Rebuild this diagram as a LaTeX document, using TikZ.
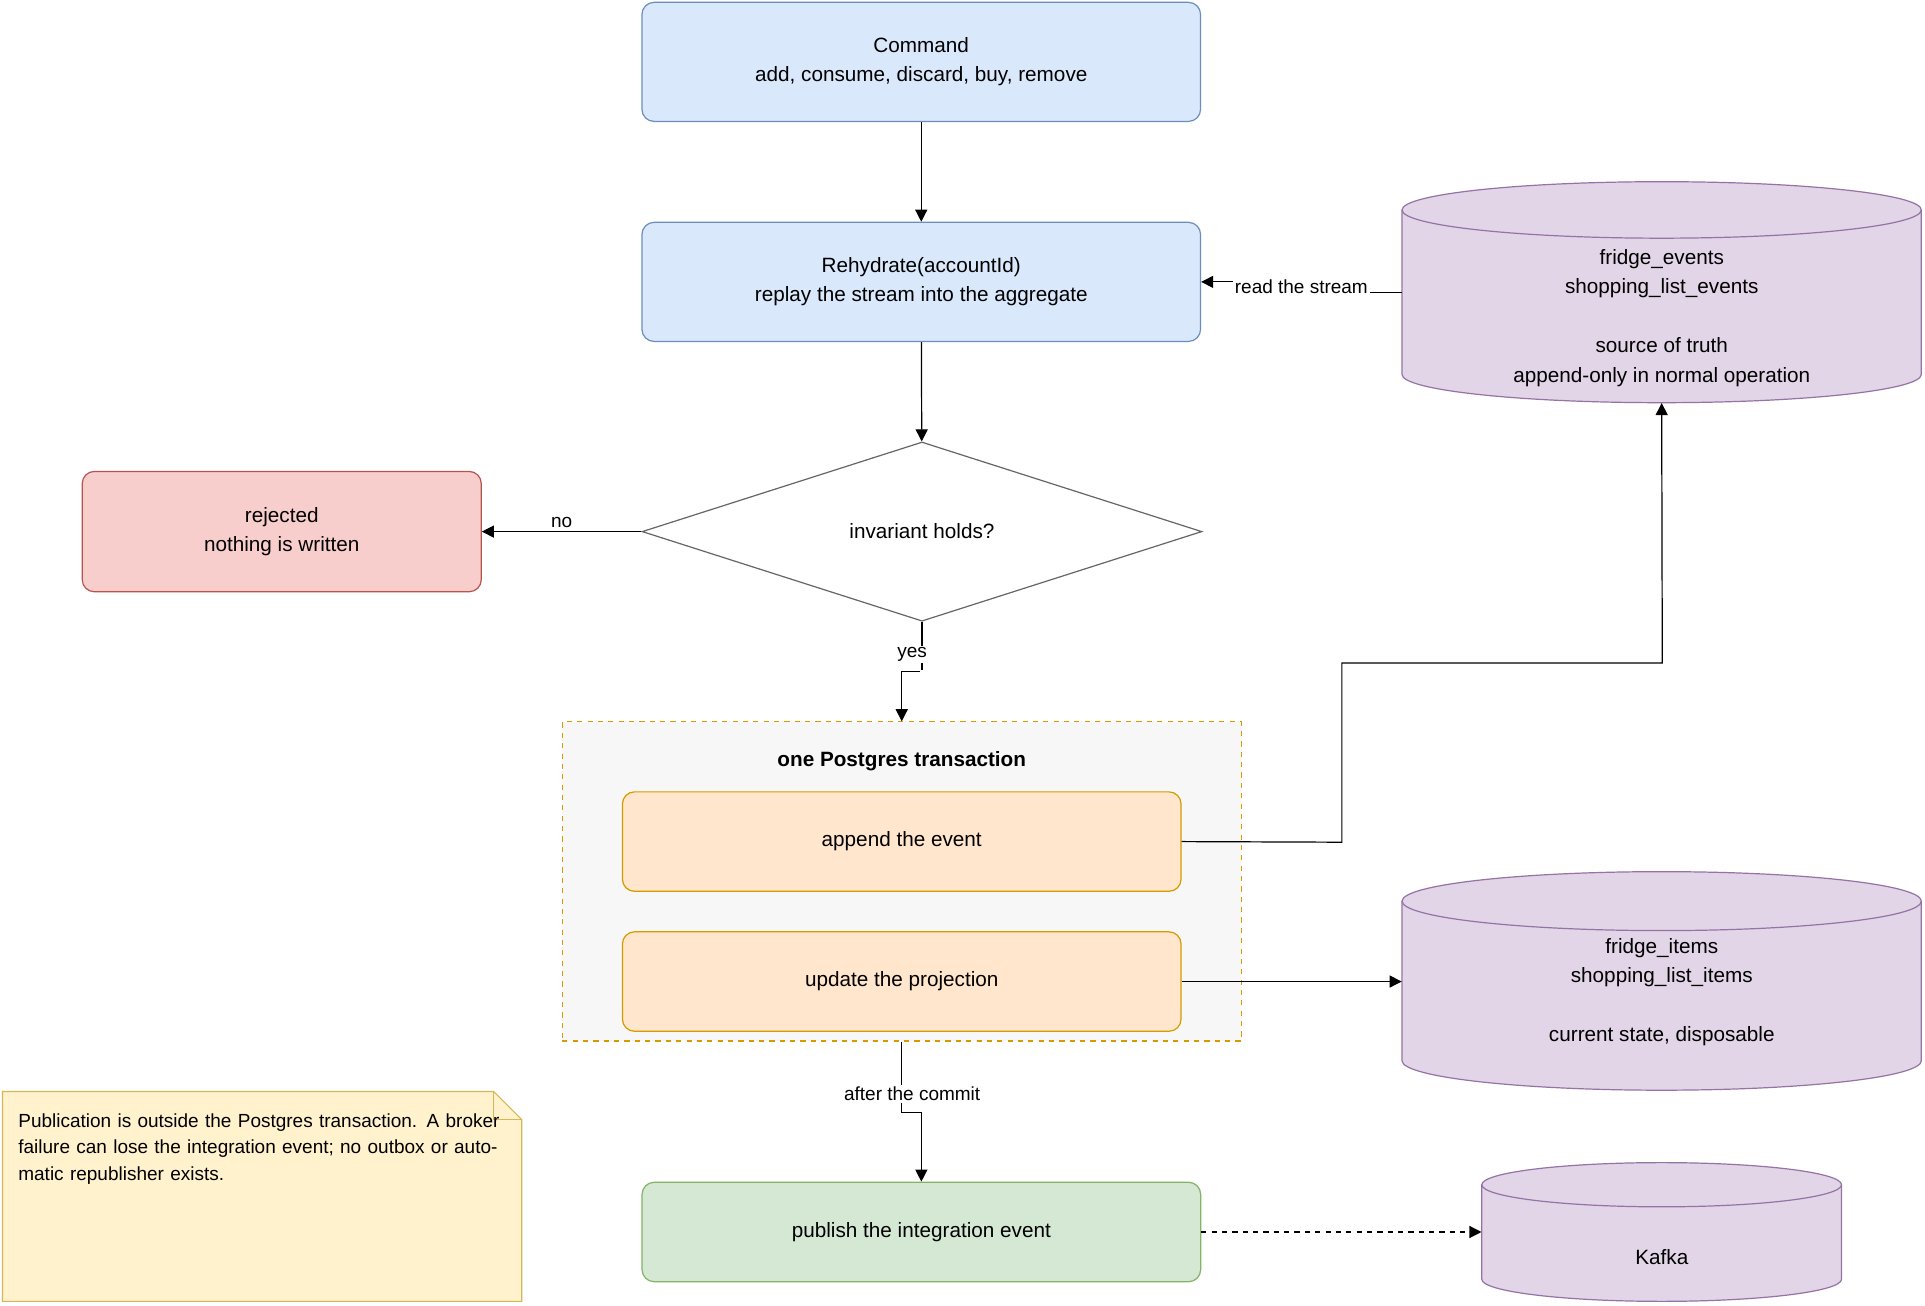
\documentclass[tikz,border=0pt]{standalone}
\usepackage{fontspec}
\setmainfont{Liberation Sans}
\usetikzlibrary{positioning,arrows.meta,shapes.geometric}

\definecolor{bluefill}{HTML}{DAE8FC}
\definecolor{blueline}{HTML}{6C8EBF}
\definecolor{redfill}{HTML}{F8CECC}
\definecolor{redline}{HTML}{B85450}
\definecolor{orfill}{HTML}{FFE6CC}
\definecolor{orline}{HTML}{D79B00}
\definecolor{grfill}{HTML}{D5E8D4}
\definecolor{grline}{HTML}{82B366}
\definecolor{dbfill}{HTML}{E1D5E7}
\definecolor{dbline}{HTML}{9673A6}
\definecolor{notefill}{HTML}{FFF2CC}
\definecolor{noteline}{HTML}{D6B656}

\tikzset{
  every node/.style={font=\fontsize{12}{17}\selectfont,align=center},
  box/.style={draw,rounded corners=7pt,minimum width=11.375cm,line width=0.7pt},
  lbl/.style={fill=white,inner sep=1pt,font=\fontsize{11}{14}\selectfont},
  arr/.style={-{Triangle[length=7pt,width=7pt]},line width=0.7pt},
}

% name, x1, y1 (top), x2, y2 (bottom), ry
\newcommand\dbcyl[6]{%
  \pgfmathsetmacro\crx{(#4-#2)/2}
  \filldraw[fill=dbfill,draw=dbline,line width=0.7pt]
    (#2,#3-#6) -- (#2,#5+#6) arc (180:360:\crx cm and #6cm) -- (#4,#3-#6)
    arc (0:180:\crx cm and #6cm) -- cycle;
  \draw[dbline,line width=0.7pt] (#2,#3-#6) arc (180:360:\crx cm and #6cm);
  \node[minimum width=#4cm-#2cm,minimum height=#3cm-#5cm,inner sep=0] (#1)
    at ({(#2+#4)/2},{(#3+#5)/2}) {};
}

\begin{document}
\begin{tikzpicture}
\useasboundingbox[fill=white] (0,0) rectangle (39.2,-26.575);

% stores
\dbcyl{events}{28.55}{-3.7}{39.125}{-8.2}{0.575}
\node (eventstxt) at (33.84,-6.475) {fridge\_events\\shopping\_list\_events\\[17pt]source of truth\\append-only in normal operation};
\dbcyl{items}{28.55}{-17.75}{39.125}{-22.2}{0.6}
\node (itemstxt) at (33.84,-20.2) {fridge\_items\\shopping\_list\_items\\[17pt]current state, disposable};
\dbcyl{kafka}{30.175}{-23.675}{37.5}{-26.5}{0.45}
\node (kafkatxt) at (33.84,-25.6) {Kafka};

% flow
\node[box,fill=bluefill,draw=blueline,minimum height=2.425cm] (command) at (18.76,-1.26) {Command\\add, consume, discard, buy, remove};
\node[box,fill=bluefill,draw=blueline,minimum height=2.425cm] (rehydrate) at (18.76,-5.74) {Rehydrate(accountId)\\replay the stream into the aggregate};
\node[diamond,draw=black!60,line width=0.7pt,minimum width=11.4cm,minimum height=3.65cm,inner sep=0,aspect=3] (check) at (18.775,-10.825) {invariant holds?};
\node[box,fill=redfill,draw=redline,minimum width=8.125cm,minimum height=2.45cm] (rejected) at (5.7375,-10.825) {rejected\\nothing is written};

\node[draw=orline,dashed,fill=black!3,minimum width=13.825cm,minimum height=6.5cm,line width=0.7pt] (tx) at (18.3625,-17.95) {};
\node[font=\fontsize{12}{17}\selectfont\bfseries] (txtitle) at (18.3625,-15.5) {one Postgres transaction};
\node[box,fill=orfill,draw=orline,minimum height=2.025cm] (append) at (18.3625,-17.1375) {append the event};
\node[box,fill=orfill,draw=orline,minimum height=2.025cm] (update) at (18.3625,-19.9875) {update the projection};
\node[box,fill=grfill,draw=grline,minimum height=2.025cm] (publish) at (18.7625,-25.0875) {publish the integration event};

% note
\filldraw[fill=notefill,draw=noteline,line width=0.7pt] (0.05,-22.225) -- (10.05,-22.225) -- (10.625,-22.8) -- (10.625,-26.5) -- (0.05,-26.5) -- cycle;
\draw[noteline,line width=0.7pt] (10.05,-22.225) -- (10.05,-22.8) -- (10.625,-22.8);
\node[anchor=north west,align=left,font=\fontsize{11}{15.5}\selectfont,text width=10cm] (note) at (0.25,-22.55) {Publication is outside the Postgres transaction. A broker failure can lose the integration event; no outbox or automatic republisher exists.};

% connectors
\draw[arr] (command) -- (rehydrate);
\draw[arr] (rehydrate) -- (check);
\draw[arr] (events.west) -- (26.5,-5.95) |- (rehydrate.east) node[lbl,pos=0.25] {read the stream};
\draw[arr] (check.west) -- (rejected.east) node[lbl,midway,above=1pt,fill=none] {no};
\draw[arr] (check.south) -- (18.775,-13.675) -| (tx.north) node[lbl,pos=0] {};
\node[lbl] (yeslbl) at (18.575,-13.325) {yes};
\draw[arr] (append.east) -- (27.325,-17.15) |- (33.85,-13.5) -- (events.south);
\draw[arr] (update.east) -- (items.west |- update.east);
\draw[arr] (tx.south) -- (18.3625,-22.65) -| (publish.north);
\node[lbl] (commitlbl) at (18.575,-22.275) {after the commit};
\draw[arr,dashed] (publish.east) -- (kafka.west |- publish.east);
\end{tikzpicture}
\end{document}
